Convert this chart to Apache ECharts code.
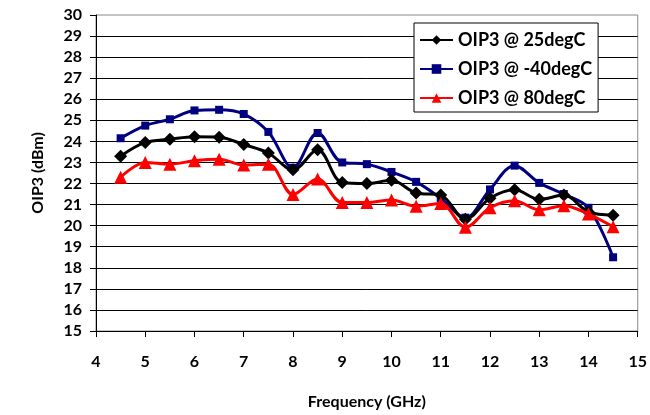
<!DOCTYPE html>
<html>
<head>
<meta charset="utf-8">
<script src="https://cdn.jsdelivr.net/npm/echarts@6/dist/echarts.min.js"></script>
<style>
  html, body { margin: 0; padding: 0; background: #fff; }
  #chart { width: 650px; height: 415px; }
</style>
</head>
<body>
<div id="chart"></div>
<script>
// frequency points (GHz)
const freq = [4.5, 5, 5.5, 6, 6.5, 7, 7.5, 8, 8.5, 9, 9.5, 10, 10.5, 11, 11.5, 12, 12.5, 13, 13.5, 14, 14.5];

// OIP3 values (dBm)
const oip3_25 = [23.3, 23.95, 24.1, 24.22, 24.2, 23.85, 23.45, 22.65, 23.6, 22.05, 22.0, 22.15, 21.55, 21.45, 20.3, 21.3, 21.7, 21.25, 21.45, 20.65, 20.5];
const oip3_m40 = [24.15, 24.75, 25.05, 25.47, 25.5, 25.3, 24.45, 22.75, 24.4, 23.0, 22.92, 22.55, 22.08, 21.3, 20.38, 21.72, 22.85, 22.03, 21.5, 20.85, 18.5];
const oip3_80 = [22.3, 23.0, 22.92, 23.08, 23.15, 22.88, 22.92, 21.48, 22.22, 21.1, 21.1, 21.22, 20.92, 21.05, 19.92, 20.85, 21.18, 20.75, 20.95, 20.55, 19.95];

const names = ['OIP3 @ 25degC', 'OIP3 @ -40degC', 'OIP3 @ 80degC'];

const font = 'Lato, "Open Sans", sans-serif';
const myChart = echarts.init(document.getElementById('chart'));

const pair = (ys) => freq.map((f, i) => [f, ys[i]]);

const option = {
  animation: false,
  grid: {
    left: 96,
    right: 2,
    top: 15,
    bottom: 83,
    show: true,
    borderColor: '#888',
    borderWidth: 1,
  },
  legend: {
    orient: 'vertical',
    left: 414,
    top: 23,
    backgroundColor: '#fff',
    borderColor: '#000',
    borderWidth: 1,
    padding: [8, 6, 5, 5],
    itemGap: 11,
    itemWidth: 33,
    itemHeight: 12,
    textStyle: { fontFamily: font, fontWeight: 'bold', fontSize: 18, color: '#000' },
    data: names,
  },
  xAxis: {
    type: 'value',
    min: 4,
    max: 15,
    interval: 1,
    name: 'Frequency (GHz)',
    nameLocation: 'middle',
    nameGap: 63,
    nameTextStyle: { fontFamily: font, fontWeight: 'bold', fontSize: 16, color: '#000' },
    axisLine: { lineStyle: { color: '#000', width: 1 } },
    axisTick: { show: true, length: 6, lineStyle: { color: '#000' } },
    axisLabel: { fontFamily: font, fontWeight: 'bold', fontSize: 16, color: '#000', margin: 23 },
    splitLine: { show: false },
  },
  yAxis: {
    type: 'value',
    min: 15,
    max: 30,
    interval: 1,
    name: 'OIP3 (dBm)',
    nameLocation: 'middle',
    nameGap: 50,
    nameRotate: 90,
    nameTextStyle: { fontFamily: font, fontWeight: 'bold', fontSize: 16, color: '#000' },
    axisLine: { show: true, lineStyle: { color: '#000', width: 1 } },
    axisTick: { show: true, length: 6, lineStyle: { color: '#000' } },
    axisLabel: { fontFamily: font, fontWeight: 'bold', fontSize: 16, color: '#000', margin: 14 },
    splitLine: { show: true, showMaxLine: false, lineStyle: { color: '#000', width: 1 } },
  },
  series: [
    {
      name: names[0],
      type: 'line',
      data: pair(oip3_25),
      smooth: 0.35,
      symbol: 'diamond',
      symbolSize: 13,
      itemStyle: { color: '#000' },
      lineStyle: { color: '#000', width: 3 },
      z: 4,
    },
    {
      name: names[1],
      type: 'line',
      data: pair(oip3_m40),
      smooth: 0.35,
      symbol: 'rect',
      symbolSize: 8,
      itemStyle: { color: '#000080' },
      lineStyle: { color: '#000080', width: 3 },
      z: 3,
    },
    {
      name: names[2],
      type: 'line',
      data: pair(oip3_80),
      smooth: 0.35,
      symbol: 'triangle',
      symbolSize: 13,
      itemStyle: { color: '#ff0000' },
      lineStyle: { color: '#ff0000', width: 3 },
      z: 5,
    },
  ],
};

myChart.setOption(option);

window.addEventListener('resize', () => {
  myChart.resize();
});
</script>
</body>
</html>
